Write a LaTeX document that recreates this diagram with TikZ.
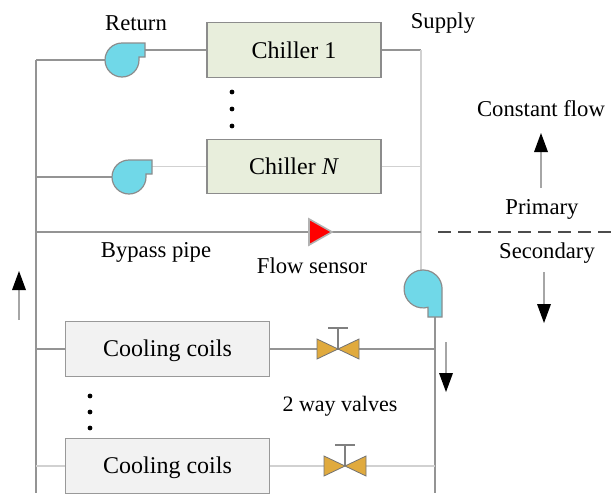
\documentclass[tikz,border=0pt]{standalone}
\usepackage{fontspec}
\setmainfont{Liberation Serif}
\definecolor{chillfill}{RGB}{232,238,220}
\definecolor{pumpfill}{RGB}{112,216,232}
\definecolor{valvefill}{RGB}{224,170,62}
\tikzset{
 x=0.75pt,y=-0.75pt,
 pipe/.style={draw=black!42,line width=1pt},
 lightpipe/.style={draw=black!18,line width=1pt},
 chillerbox/.style={draw=black!45,fill=chillfill,line width=.8pt,minimum width=130.5pt,minimum height=41pt,inner sep=0pt,font=\fontsize{18}{21}\selectfont},
 coilbox/.style={draw=black!40,fill=black!5,line width=.8pt,minimum width=153pt,minimum height=41pt,inner sep=0pt,text height=14pt,text depth=3pt,font=\fontsize{18}{21}\selectfont},
 lab/.style={inner sep=0pt,font=\fontsize{17}{20}\selectfont},
 pumpshape/.style={draw=black!45,fill=pumpfill,line width=.9pt},
 dotmark/.style={circle,fill=black,inner sep=0pt,minimum size=3.6pt},
 valveshape/.style={draw=black!55,fill=valvefill,line width=.6pt},
 flowarrow/.style={draw=black!35,line width=1pt},
 headshape/.style={fill=black,draw=none},
}
\begin{document}
\begin{tikzpicture}
\useasboundingbox (0,0) rectangle (616,493);
% coordinates
\coordinate (tl) at (36,60);
\coordinate (bl) at (36,493);
\coordinate (tr) at (421,50);
\coordinate (trb) at (421,271);
\coordinate (bypassL) at (36,232);
\coordinate (bypassR) at (421,232);
\coordinate (dashL) at (438,232);
\coordinate (dashR) at (616,232);
\coordinate (secT) at (435,317);
\coordinate (secB) at (435,493);
% boxes
\node[chillerbox] (ch1) at (294,50) {Chiller 1};
\node[chillerbox] (chn) at (294,166.5) {Chiller \textit{N}};
\node[coilbox] (cc1) at (167.5,349) {Cooling coils};
\node[coilbox,anchor=north] (cc2) at (167.5,438) {Cooling coils};
% pipes
\draw[pipe] (tl) -- (bl);
\draw[pipe] (tl) -- (105,60);
\draw[pipe] (145,50) -- (ch1.west);
\draw[pipe] (36,177) -- (112,177);
\draw[lightpipe] (152,166.5) -- (chn.west);
\draw[pipe] (ch1.east) -- (tr);
\draw[lightpipe] (chn.east) -- (421,166.5);
\draw[lightpipe] (tr) -- (trb);
\draw[pipe] (bypassL) -- (bypassR);
\draw[pipe] (secT) -- (secB);
\draw[pipe] (36,349) -- (cc1.west);
\draw[pipe] (cc1.east) -- (secT |- cc1.east);
\draw[lightpipe] (36,466) -- (cc2.west |- 0,466);
\draw[lightpipe] (cc2.east |- 0,466) -- (324,466);
\draw[lightpipe] (366,466) -- (435,466);
% pumps (horizontal)
\foreach \cx/\cy in {122/60,129/177}{
 \draw[pumpshape] (\cx,\cy-17) -- (\cx+23,\cy-17) -- (\cx+23,\cy-3) -- (\cx+17,\cy-3) -- (\cx+17,\cy)
   arc[start angle=0,end angle=-270,radius=12.75pt] -- cycle;
}
% secondary pump
\draw[pumpshape] (442,317) -- (428,317) -- (428,307.3)
   arc[start angle=-75,end angle=-360,radius=14.25pt] -- cycle;
% flow sensor
\draw[draw=black!30,fill=red,line width=1.2pt] (309,219) -- (332,232) -- (309,245) -- cycle;
% dashed
\draw[draw=black!70,line width=1.5pt,dash pattern=on 10pt off 5pt] (dashL) -- (dashR);
% valves
\foreach \cx/\cy/\st in {338/349/328,345/466/445}{
 \draw[draw=black!50,line width=.8pt] (\cx,\cy) -- (\cx,\st) (\cx-10,\st) -- (\cx+10,\st);
 \draw[valveshape] (\cx-21,\cy-10) -- (\cx,\cy) -- (\cx-21,\cy+10) -- cycle;
 \draw[valveshape] (\cx+21,\cy-10) -- (\cx,\cy) -- (\cx+21,\cy+10) -- cycle;
}
% arrows
\draw[flowarrow] (541,188) -- (541,150);
\fill[headshape] (541,133) -- (548,152) -- (534,152) -- cycle;
\draw[flowarrow] (544,272) -- (544,305);
\fill[headshape] (544,323) -- (551,304) -- (537,304) -- cycle;
\draw[flowarrow] (446,342) -- (446,375);
\fill[headshape] (446,392) -- (453,373) -- (439,373) -- cycle;
\draw[flowarrow] (19,320) -- (19,288);
\fill[headshape] (19,271) -- (26,290) -- (12,290) -- cycle;
% dots
\foreach \y/\n in {92/a,109/b,126/c}{\node[dotmark] (d\n) at (232,\y) {};}
\foreach \y/\n in {396/e,412/f,428/g}{\node[dotmark] (d\n) at (90,\y) {};}
% labels
\node[lab] (l1) at (136,23) {Return};
\node[lab] (l2) at (443,23) {Supply};
\node[lab] (l3) at (541,109) {Constant flow};
\node[lab] (l4) at (542,209) {Primary};
\node[lab] (l5) at (547,253) {Secondary};
\node[lab] (l6) at (156,252) {Bypass pipe};
\node[lab] (l7) at (312,266) {Flow sensor};
\node[font=\fontsize{16.5}{20}\selectfont,inner sep=0pt] (l8) at (340,406) {2 way valves};
\end{tikzpicture}
\end{document}
